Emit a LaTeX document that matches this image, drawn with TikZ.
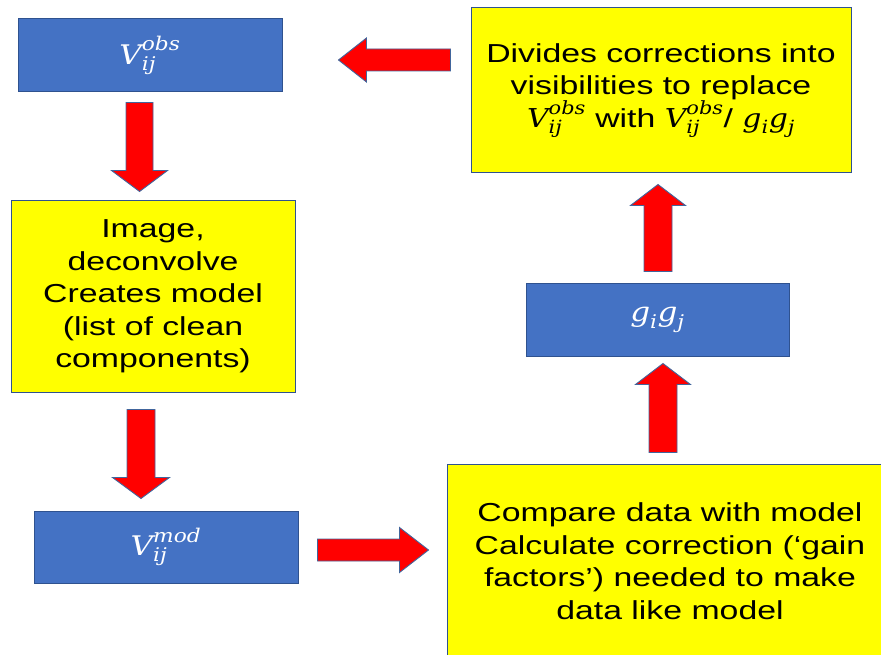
\documentclass[tikz,border=0pt]{standalone}
\usepackage{amsmath}
\usepackage{fontspec}
\setmainfont[FakeStretch=1.3]{Liberation Sans}
\newfontfamily\letterfam[FakeStretch=1.15]{DejaVu Serif}
\usetikzlibrary{calc}

\definecolor{boxblue}{HTML}{4472C4}
\definecolor{edgeblue}{HTML}{2F528F}
\definecolor{arrowred}{HTML}{FF0000}
\definecolor{arrowedge}{HTML}{41659C}
\definecolor{noteyellow}{HTML}{FFFF00}

% italic serif letters for the formulas
\newcommand\lt[1]{\text{\letterfam\itshape #1}}
\newcommand\vis[1]{$\lt{V}_{\lt{ij}}^{\lt{#1}}$}
\newcommand\gains{$\lt{g}_{\lt{i}}\lt{g}_{\lt{j}}$}

% block arrow: #1 tail, #2 tip, #3 shaft half width, #4 head half width, #5 head length
\newcommand\blockarrow[5]{%
  \coordinate (ba-base) at ($(#2)!#5!(#1)$);
  \draw[arrowbody]
    ($(#1)!#3!90:(#2)$) -- ($(ba-base)!#3!90:(#2)$) -- ($(ba-base)!#4!90:(#2)$)
    -- (#2)
    -- ($(ba-base)!#4!-90:(#2)$) -- ($(ba-base)!#3!-90:(#2)$) -- ($(#1)!#3!-90:(#2)$) -- cycle;
}

\begin{document}
\begin{tikzpicture}[x=1pt,y=-1pt,
  bluebox/.style={draw=edgeblue, line width=1pt, fill=boxblue, text=white,
    inner sep=0pt, font=\fontsize{27}{34}\selectfont},
  notebox/.style={draw=edgeblue, line width=1pt, fill=noteyellow, text=black,
    inner sep=0pt, align=center, font=\fontsize{26}{32.5}\selectfont},
  arrowbody/.style={draw=arrowedge, line width=0.9pt, fill=arrowred, line join=miter}]

\useasboundingbox (0,0) rectangle (881,655);
\clip (0,0) rectangle (881,655);

% boxes
\node[bluebox, minimum width=264pt, minimum height=73pt] (vobs) at (150,55.5)
  {\vis{obs}};
\node[notebox, minimum width=380pt, minimum height=165pt] (upd) at (661,90.5)
  {Divides corrections into\\visibilities to replace\\
   \vis{obs} with \vis{obs}/ \gains};
\node[notebox, minimum width=284pt, minimum height=191pt] (img) at (153,296.5)
  {Image,\\deconvolve\\Creates model\\(list of clean\\components)};
\node[bluebox, minimum width=264pt, minimum height=72pt] (vmod) at (166,547)
  {\vis{mod}};
\node[bluebox, minimum width=263pt, minimum height=73pt] (gg) at (657.5,319.5)
  {\gains};
\node[notebox, minimum width=446pt, minimum height=194pt] (cmp) at (670,561)
  {Compare data with model\\Calculate correction (‘gain\\factors’) needed to make\\data like model};

% arrow ends
\coordinate (a1s) at ($(upd.west)+(-20,-30.5)$);
\coordinate (a1e) at ($(vobs.east)+(56,4.5)$);
\coordinate (a2s) at ($(vobs.south)+(-10.5,10)$);
\coordinate (a2e) at ($(img.north)+(-13.5,-9)$);
\coordinate (a3s) at ($(img.south)+(-12,17)$);
\coordinate (a3e) at ($(vmod.north)+(-25,-12)$);
\coordinate (a4s) at ($(vmod.east)+(19,3)$);
\coordinate (a4e) at ($(cmp.west)+(-18,-11)$);
\coordinate (a5s) at ($(cmp.north)+(-7,-11)$);
\coordinate (a5e) at ($(gg.south)+(5.5,7)$);
\coordinate (a6s) at ($(gg.north)+(0.5,-11)$);
\coordinate (a6e) at ($(upd.south)+(-3,11)$);

% arrows
\blockarrow{a1s}{a1e}{11pt}{22pt}{28pt}
\blockarrow{a2s}{a2e}{13.5pt}{28pt}{21pt}
\blockarrow{a3s}{a3e}{14pt}{28.5pt}{21pt}
\blockarrow{a4s}{a4e}{11pt}{22.5pt}{29pt}
\blockarrow{a5s}{a5e}{14pt}{27.5pt}{21pt}
\blockarrow{a6s}{a6e}{14pt}{27.5pt}{21pt}

\end{tikzpicture}
\end{document}
